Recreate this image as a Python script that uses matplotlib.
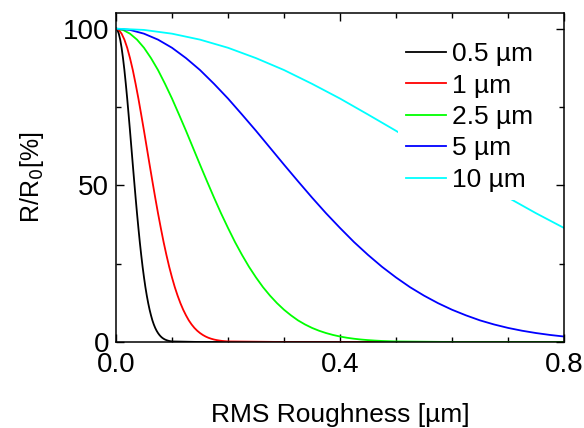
import matplotlib
matplotlib.use("Agg")
import matplotlib.pyplot as plt
from matplotlib.ticker import MultipleLocator

plt.rcParams['font.family'] = ['Liberation Sans', 'DejaVu Sans']

labels = ['0.5 µm', '1 µm', '2.5 µm', '5 µm', '10 µm']
colors = ['black', '#ff0000', '#00ff00', '#0000ff', '#00ffff']

# black (0.5 um)
x_05 = [0, 0.0025, 0.005, 0.0075, 0.01, 0.0125, 0.015, 0.0175, 0.02, 0.0225, 0.025, 0.0275,
        0.03, 0.0325, 0.035, 0.0375, 0.04, 0.0425, 0.045, 0.0475, 0.05, 0.0525, 0.055, 0.0575,
        0.06, 0.0625, 0.065, 0.0675, 0.07, 0.0725, 0.075, 0.0775, 0.08, 0.0825, 0.085, 0.0875,
        0.09, 0.0925, 0.095, 0.0975, 0.10, 0.15, 0.8]
y_05 = [100, 99.6, 98.4, 96.5, 93.9, 90.6, 86.8, 82.4, 77.7, 72.6, 67.4, 62.0,
        56.6, 51.3, 46.1, 41.1, 36.4, 31.9, 27.8, 24.0, 20.6, 17.5, 14.8, 12.4,
        10.3, 8.5, 6.9, 5.6, 4.5, 3.6, 2.86, 2.25, 1.75, 1.35, 1.04, 0.79,
        0.6, 0.45, 0.33, 0.25, 0.18, 0, 0]
# red (1 um)
x_1 = [0, 0.005, 0.01, 0.015, 0.02, 0.025, 0.03, 0.035, 0.04, 0.045, 0.05, 0.055,
       0.06, 0.065, 0.07, 0.075, 0.08, 0.085, 0.09, 0.095, 0.10, 0.105, 0.11, 0.115,
       0.12, 0.125, 0.13, 0.135, 0.14, 0.145, 0.15, 0.155, 0.16, 0.165, 0.17, 0.175,
       0.18, 0.185, 0.19, 0.195, 0.20, 0.30, 0.8]
y_1 = [100, 99.6, 98.4, 96.5, 93.9, 90.6, 86.8, 82.4, 77.7, 72.6, 67.4, 62.0,
       56.6, 51.3, 46.1, 41.1, 36.4, 31.9, 27.8, 24.0, 20.6, 17.5, 14.8, 12.4,
       10.3, 8.5, 6.9, 5.6, 4.5, 3.6, 2.86, 2.25, 1.75, 1.35, 1.04, 0.79,
       0.6, 0.45, 0.33, 0.25, 0.18, 0, 0]
# green (2.5 um)
x_25 = [0, 0.0125, 0.025, 0.0375, 0.05, 0.0625, 0.075, 0.0875, 0.10, 0.1125, 0.125, 0.1375,
        0.15, 0.1625, 0.175, 0.1875, 0.20, 0.2125, 0.225, 0.2375, 0.25, 0.2625, 0.275, 0.2875,
        0.30, 0.3125, 0.325, 0.3375, 0.35, 0.3625, 0.375, 0.3875, 0.40, 0.4125, 0.425, 0.4375,
        0.45, 0.4625, 0.475, 0.4875, 0.50, 0.60, 0.8]
y_25 = [100, 99.6, 98.4, 96.5, 93.9, 90.6, 86.8, 82.4, 77.7, 72.6, 67.4, 62.0,
        56.6, 51.3, 46.1, 41.1, 36.4, 31.9, 27.8, 24.0, 20.6, 17.5, 14.8, 12.4,
        10.3, 8.5, 6.9, 5.6, 4.5, 3.6, 2.86, 2.25, 1.75, 1.35, 1.04, 0.79,
        0.6, 0.45, 0.33, 0.25, 0.18, 0, 0]
# blue (5 um)
x_5 = [0, 0.025, 0.05, 0.075, 0.10, 0.125, 0.15, 0.175, 0.20, 0.225, 0.25, 0.275,
       0.30, 0.325, 0.35, 0.375, 0.40, 0.425, 0.45, 0.475, 0.50, 0.525, 0.55, 0.575,
       0.60, 0.625, 0.65, 0.675, 0.70, 0.725, 0.75, 0.775, 0.80]
y_5 = [100, 99.6, 98.4, 96.5, 93.9, 90.6, 86.8, 82.4, 77.7, 72.6, 67.4, 62.0,
       56.6, 51.3, 46.1, 41.1, 36.4, 31.9, 27.8, 24.0, 20.6, 17.5, 14.8, 12.4,
       10.3, 8.5, 6.9, 5.6, 4.5, 3.6, 2.86, 2.25, 1.75]
# cyan (10 um)
x_10 = [0, 0.05, 0.10, 0.15, 0.20, 0.25, 0.30, 0.35, 0.40, 0.45, 0.50, 0.55, 0.60, 0.65,
        0.70, 0.75, 0.80]
y_10 = [100, 99.6, 98.4, 96.5, 93.9, 90.6, 86.8, 82.4, 77.7, 72.6, 67.4, 62.0, 56.6, 51.3,
        46.1, 41.1, 36.4]

series = [(x_05, y_05), (x_1, y_1), (x_25, y_25), (x_5, y_5), (x_10, y_10)]

fig = plt.figure(figsize=(5.84, 4.28), dpi=100)
ax = fig.add_axes([116/584, 1-342/428, 448/584, 329/428])

for (xs, ys), c, lab in zip(series, colors, labels):
    ax.plot(xs, ys, color=c, lw=1.3, label=lab)

ax.set_xlim(0, 0.8)
ax.set_ylim(0, 105)
ax.xaxis.set_minor_locator(MultipleLocator(0.1))
ax.yaxis.set_major_locator(MultipleLocator(50))
ax.yaxis.set_minor_locator(MultipleLocator(25))
ax.set_xticks([0, 0.4, 0.8])
ax.set_xticklabels(['0.0', '0.4', '0.8'])
ax.tick_params(which='both', direction='in', top=True, right=True, labelsize=20, width=1)
ax.tick_params(which='major', length=6)
ax.tick_params(axis='x', which='major', pad=7)
ax.tick_params(axis='y', which='major', pad=5)
ax.tick_params(which='minor', length=3.5)
for s in ax.spines.values():
    s.set_linewidth(1.1)

ax.set_xlabel('RMS Roughness [µm]', fontsize=19, labelpad=18)
ax.set_ylabel('R/R$_0$[%]', fontsize=18, labelpad=12)

leg = ax.legend(loc='upper left', bbox_to_anchor=(0.63, 0.935), frameon=True,
                fontsize=19, handlelength=1.5, handletextpad=0.25,
                labelspacing=0.28, borderpad=0.3, borderaxespad=0)
leg.get_frame().set_facecolor('white')
leg.get_frame().set_edgecolor('none')
leg.get_frame().set_alpha(1)

fig.savefig('out.png', dpi=100)
